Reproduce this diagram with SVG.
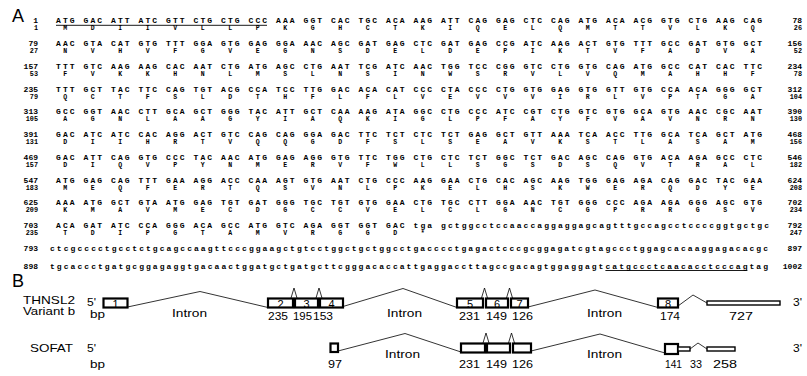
<svg xmlns="http://www.w3.org/2000/svg" width="807" height="376" viewBox="0 0 807 376">
<style>
.dna{font-family:"Liberation Mono","DejaVu Sans Mono",monospace;font-weight:bold;font-size:8px;letter-spacing:2.075px;fill:#000;white-space:pre}
.aa{font-family:"Liberation Mono","DejaVu Sans Mono",monospace;font-weight:bold;font-size:6.5px;letter-spacing:2.975px;fill:#000;white-space:pre}
.lc{letter-spacing:2.057px}
.nl{font-family:"Liberation Mono","DejaVu Sans Mono",monospace;font-weight:bold;font-size:8px;fill:#000;text-anchor:end}
.pl{font-size:6.8px}
.big{font-family:"Liberation Sans",Arial,sans-serif;font-size:18px;fill:#000}
.lab{font-family:"Liberation Sans",Arial,sans-serif;font-size:10.5px;fill:#000}
.bn{font-family:"Liberation Sans",Arial,sans-serif;font-size:11px;fill:#000;text-anchor:middle}
.ex{fill:#fff;stroke:#000;stroke-width:2.2}
.utr{fill:#fff;stroke:#000;stroke-width:1.4}
.ln{fill:none;stroke:#000;stroke-width:0.8}
.ul{stroke:#000;stroke-width:0.9}
</style>

<g id="panelA">
<text class="big" x="12" y="22">A</text>
<g id="leftnums">
<text class="nl" x="38" y="23.3">1</text><text class="nl pl" x="38" y="30.3">1</text>
<text class="nl" x="38" y="46">79</text><text class="nl pl" x="38" y="53">27</text>
<text class="nl" x="38" y="68.8">157</text><text class="nl pl" x="38" y="75.8">53</text>
<text class="nl" x="38" y="91.5">235</text><text class="nl pl" x="38" y="98.5">79</text>
<text class="nl" x="38" y="114.3">313</text><text class="nl pl" x="38" y="121.3">105</text>
<text class="nl" x="38" y="137">391</text><text class="nl pl" x="38" y="144">131</text>
<text class="nl" x="38" y="159.8">469</text><text class="nl pl" x="38" y="166.8">157</text>
<text class="nl" x="38" y="182.5">547</text><text class="nl pl" x="38" y="189.5">183</text>
<text class="nl" x="38" y="205.3">625</text><text class="nl pl" x="38" y="212.3">209</text>
<text class="nl" x="38" y="228">703</text><text class="nl pl" x="38" y="235">235</text>
<text class="nl" x="38" y="251">793</text>
<text class="nl" x="38" y="268.5">898</text>
</g>
<g id="rightnums">
<text class="nl" x="802" y="23.3">78</text><text class="nl pl" x="802" y="30.3">26</text>
<text class="nl" x="802" y="46">156</text><text class="nl pl" x="802" y="53">52</text>
<text class="nl" x="802" y="68.8">234</text><text class="nl pl" x="802" y="75.8">78</text>
<text class="nl" x="802" y="91.5">312</text><text class="nl pl" x="802" y="98.5">104</text>
<text class="nl" x="802" y="114.3">390</text><text class="nl pl" x="802" y="121.3">130</text>
<text class="nl" x="802" y="137">468</text><text class="nl pl" x="802" y="144">156</text>
<text class="nl" x="802" y="159.8">546</text><text class="nl pl" x="802" y="166.8">182</text>
<text class="nl" x="802" y="182.5">624</text><text class="nl pl" x="802" y="189.5">208</text>
<text class="nl" x="802" y="205.3">702</text><text class="nl pl" x="802" y="212.3">234</text>
<text class="nl" x="802" y="228">792</text><text class="nl pl" x="802" y="235">247</text>
<text class="nl" x="802" y="251">897</text>
<text class="nl" x="802" y="268.5">1002</text>
</g>
<g id="sequence">
<text class="dna" xml:space="preserve" x="56" y="23.3">ATG GAC ATT ATC GTT CTG CTG CCC AAA GGT CAC TGC ACA AAG ATT CAG GAG CTC CAG ATG ACA ACG GTG CTG AAG CAG</text>
<text class="aa" xml:space="preserve" x="63.3" y="30.3">M   D   I   I   V   L   L   P   K   G   H   C   T   K   I   Q   E   L   Q   M   T   T   V   L   K   Q</text>
<text class="dna" xml:space="preserve" x="56" y="46">AAC GTA CAT GTG TTT GGA GTG GAG GGA AAC AGC GAT GAG CTC GAT GAG CCG ATC AAG ACT GTG TTT GCC GAT GTG GCT</text>
<text class="aa" xml:space="preserve" x="63.3" y="53">N   V   H   V   F   G   V   E   G   N   S   D   E   L   D   E   P   I   K   T   V   F   A   D   V   A</text>
<text class="dna" xml:space="preserve" x="56" y="68.8">TTT GTC AAG AAG CAC AAT CTG ATG AGC CTG AAT TCG ATC AAC TGG TCC CGG GTC CTG GTG CAG ATG GCC CAT CAC TTC</text>
<text class="aa" xml:space="preserve" x="63.3" y="75.8">F   V   K   K   H   N   L   M   S   L   N   S   I   N   W   S   R   V   L   V   Q   M   A   H   H   F</text>
<text class="dna" xml:space="preserve" x="56" y="91.5">TTT GCT TAC TTC CAG TGT ACG CCA TCC TTG GAC ACA CAT CCC CTA CCC CTG GTG GAG GTG GTT GTG CCA ACA GGG GCT</text>
<text class="aa" xml:space="preserve" x="63.3" y="98.5">Q   C   T   F   S   L   D   T   H   F   L   F   L   V   E   V   V   V   I   R   L   V   P   T   G   A</text>
<text class="dna" xml:space="preserve" x="56" y="114.3">GCC GGT AAC CTT GCA GCT GGG TAC ATT GCT CAA AAG ATA GGC CTG CCC ATC CGT CTG GTC GTG GCA GTG AAC CGC AAT</text>
<text class="aa" xml:space="preserve" x="63.3" y="121.3">A   G   N   L   A   A   G   Y   I   A   Q   K   I   G   L   P   F   A   Y   F   V   A   V   N   R   N</text>
<text class="dna" xml:space="preserve" x="56" y="137">GAC ATC ATC CAC AGG ACT GTC CAG CAG GGA GAC TTC TCT CTC TCT GAG GCT GTT AAA TCA ACC TTG GCA TCA GCT ATG</text>
<text class="aa" xml:space="preserve" x="63.3" y="144">D   I   I   H   R   T   V   Q   Q   G   D   F   S   L   S   E   A   V   K   S   T   L   A   S   A   M</text>
<text class="dna" xml:space="preserve" x="56" y="159.8">GAC ATT CAG GTG CCC TAC AAC ATG GAG AGG GTG TTC TGG CTG CTC TCT GGC TCT GAC AGC CAG GTG ACA AGA GCC CTC</text>
<text class="aa" xml:space="preserve" x="63.3" y="166.8">D   I   Q   V   P   Y   N   M   E   R   V   F   W   L   L   S   G   S   D   S   Q   V   T   R   A   L</text>
<text class="dna" xml:space="preserve" x="56" y="182.5">ATG GAG CAG TTT GAA AGG ACC CAA AGT GTG AAT CTG CCC AAG GAA CTG CAC AGC AAG TGG GAG AGA CAG GAC TAC GAA</text>
<text class="aa" xml:space="preserve" x="63.3" y="189.5">M   E   Q   F   E   R   T   Q   S   V   N   L   P   K   E   L   H   S   K   W   E   R   Q   D   Y   E</text>
<text class="dna" xml:space="preserve" x="56" y="205.3">AAA ATG GCT GTA ATG GAG TGT GAT GGG TGC TGT GTG GAA CTG TGC CTT GGA AAC TGT GGG CCC AGA AGA GGG AGC GTG</text>
<text class="aa" xml:space="preserve" x="63.3" y="212.3">K   M   A   V   M   E   C   D   G   C   C   V   E   L   C   L   G   N   C   G   P   R   R   G   S   V</text>
<text class="dna" xml:space="preserve" x="56" y="228">ACA GAT ATC CCA GGG ACA GCC ATG GTC AGA GGT GGT GAC tga gctggcctccaaccaggaggagcagtttgccagcctccccggtgctgc</text>
<text class="aa" xml:space="preserve" x="63.3" y="235">T   D   I   P   G   T   A   M   V   R   G   G   D   *</text>
<text class="dna lc" x="50" y="251">ctcgcccctgcctctgcagccaagttcccggaagctgtcctggctgctggcctgacccctgagactcccgcggagatcgtagccctggagcacaaggagacacgc</text>
<text class="dna lc" x="50" y="268.5">tgcaccctgatgcggagaggtgacaactggatgctgatgcttcgggacaccattgaggaccttagccgacagtggaggagtcatgccctcaacacctcccagtag</text>
<line class="ul" x1="56" y1="25.3" x2="267" y2="25.3"/>
<line class="ul" x1="605.4" y1="270.5" x2="747.4" y2="270.5"/>
</g>
</g>

<g id="panelB">
<text class="big" x="12" y="287">B</text>
<g id="labels">
<text class="lab" x="23" y="304" textLength="52" lengthAdjust="spacingAndGlyphs">THNSL2</text>
<text class="lab" x="23" y="315" textLength="52" lengthAdjust="spacingAndGlyphs">Variant b</text>
<text class="lab" x="87" y="305.5" textLength="9" lengthAdjust="spacingAndGlyphs">5'</text>
<text class="lab" x="90" y="318" textLength="15" lengthAdjust="spacingAndGlyphs">bp</text>
<text class="lab" x="30" y="351.5" textLength="43" lengthAdjust="spacingAndGlyphs">SOFAT</text>
<text class="lab" x="87" y="351.5" textLength="9" lengthAdjust="spacingAndGlyphs">5'</text>
<text class="lab" x="90" y="368" textLength="15" lengthAdjust="spacingAndGlyphs">bp</text>
<text class="lab" x="793" y="305.5" textLength="9" lengthAdjust="spacingAndGlyphs">3'</text>
<text class="lab" x="793" y="351.5" textLength="9" lengthAdjust="spacingAndGlyphs">3'</text>
<text class="lab" x="172" y="316.7" textLength="35" lengthAdjust="spacingAndGlyphs">Intron</text>
<text class="lab" x="387" y="316.7" textLength="35" lengthAdjust="spacingAndGlyphs">Intron</text>
<text class="lab" x="587" y="316.7" textLength="35" lengthAdjust="spacingAndGlyphs">Intron</text>
<text class="lab" x="385" y="358.3" textLength="35" lengthAdjust="spacingAndGlyphs">Intron</text>
<text class="lab" x="587" y="358.3" textLength="35" lengthAdjust="spacingAndGlyphs">Intron</text>
<text class="lab" x="268" y="320" textLength="20" lengthAdjust="spacingAndGlyphs">235</text>
<text class="lab" x="293" y="320" textLength="19" lengthAdjust="spacingAndGlyphs">195</text>
<text class="lab" x="313" y="320" textLength="20" lengthAdjust="spacingAndGlyphs">153</text>
<text class="lab" x="459" y="320" textLength="21" lengthAdjust="spacingAndGlyphs">231</text>
<text class="lab" x="486" y="320" textLength="21" lengthAdjust="spacingAndGlyphs">149</text>
<text class="lab" x="512" y="320" textLength="21" lengthAdjust="spacingAndGlyphs">126</text>
<text class="lab" x="660" y="320" textLength="20" lengthAdjust="spacingAndGlyphs">174</text>
<text class="lab" x="729" y="320" textLength="24" lengthAdjust="spacingAndGlyphs">727</text>
<text class="lab" x="328" y="368" textLength="14" lengthAdjust="spacingAndGlyphs">97</text>
<text class="lab" x="459" y="368" textLength="21" lengthAdjust="spacingAndGlyphs">231</text>
<text class="lab" x="486" y="368" textLength="21" lengthAdjust="spacingAndGlyphs">149</text>
<text class="lab" x="512" y="368" textLength="21" lengthAdjust="spacingAndGlyphs">126</text>
<text class="lab" x="665" y="368" textLength="17" lengthAdjust="spacingAndGlyphs">141</text>
<text class="lab" x="690" y="368" textLength="12" lengthAdjust="spacingAndGlyphs">33</text>
<text class="lab" x="713" y="368" textLength="24" lengthAdjust="spacingAndGlyphs">258</text>
</g>
<g id="connectors">
<polyline class="ln" points="127.5,307 200,291.5 268,307.5"/>
<polyline class="ln" points="291,298 294,288 297,298"/>
<polyline class="ln" points="316,298 319,288 322,298"/>
<polyline class="ln" points="343,306.5 403,288.5 457,307.5"/>
<polyline class="ln" points="481.5,298 484.5,288 487.5,298"/>
<polyline class="ln" points="506.5,298 509.5,288 512.5,298"/>
<polyline class="ln" points="528,307 595,290 658,307.5"/>
<polyline class="ln" points="678,306 693,295 707,303"/>
<polyline class="ln" points="338,351 405,333.5 461,352"/>
<polyline class="ln" points="483,343 486,333 489,343"/>
<polyline class="ln" points="508.5,343 511.5,333 514.5,343"/>
<polyline class="ln" points="531,351 600,334 665,353"/>
<polyline class="ln" points="690,349 698,343 707,349"/>
</g>
<g id="thnsl2-exon1"><rect class="ex" x="103.5" y="298.5" width="24" height="9"/><text class="bn" x="115.5" y="307.5">1</text></g>
<g id="thnsl2-exon2"><rect class="ex" x="268" y="298.5" width="25" height="9"/><text class="bn" x="280.5" y="307.5">2</text></g>
<g id="thnsl2-exon3"><rect class="ex" x="295" y="298.5" width="23" height="9"/><text class="bn" x="306.5" y="307.5">3</text></g>
<g id="thnsl2-exon4"><rect class="ex" x="320" y="298.5" width="23" height="9"/><text class="bn" x="331.5" y="307.5">4</text></g>
<g id="thnsl2-exon5"><rect class="ex" x="457" y="298.5" width="26" height="9"/><text class="bn" x="470" y="307.5">5</text></g>
<g id="thnsl2-exon6"><rect class="ex" x="486" y="298.5" width="22" height="9"/><text class="bn" x="497" y="307.5">6</text></g>
<g id="thnsl2-exon7"><rect class="ex" x="511" y="298.5" width="17" height="9"/><text class="bn" x="519.5" y="307.5">7</text></g>
<g id="thnsl2-exon8"><rect class="ex" x="658" y="298.5" width="20" height="9"/><text class="bn" x="668" y="307.5">8</text></g>
<g id="thnsl2-utr"><rect class="utr" x="707" y="301" width="73" height="4"/></g>
<g id="sofat-exon1"><rect class="ex" x="330.5" y="343.5" width="7.5" height="8.5"/></g>
<g id="sofat-exon2"><rect class="ex" x="461" y="343.5" width="24" height="9"/></g>
<g id="sofat-exon3"><rect class="ex" x="487" y="343.5" width="23" height="9"/></g>
<g id="sofat-exon4"><rect class="ex" x="513" y="343.5" width="18" height="9"/></g>
<g id="sofat-exon5"><rect class="ex" x="665" y="344" width="13" height="10"/></g>
<g id="sofat-exon6"><rect class="utr" x="678" y="347" width="12" height="4"/></g>
<g id="sofat-utr"><rect class="utr" x="707" y="347" width="28" height="4"/></g>
</g>
</svg>
